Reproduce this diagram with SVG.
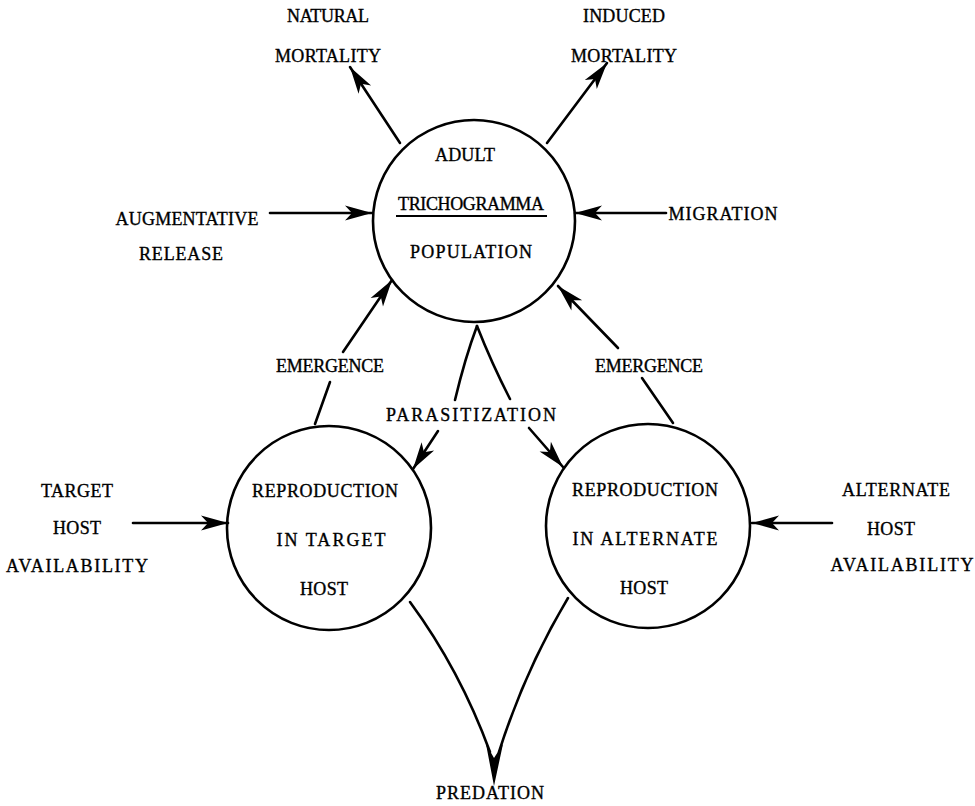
<svg xmlns="http://www.w3.org/2000/svg" width="975" height="806" viewBox="0 0 975 806">
<style>
text{font-family:"Liberation Serif","Times New Roman",serif;font-size:18px;fill:#000;stroke:#000;stroke-width:0.35;text-anchor:middle}
.node circle{fill:none;stroke:#000;stroke-width:2.6}
.c{fill:none;stroke:#000;stroke-width:2.6;stroke-linecap:round}
.a{marker-end:url(#ah)}
</style>
<defs>
<marker id="ah" viewBox="-30 -9 32 18" refX="0" refY="0" markerWidth="32" markerHeight="18" markerUnits="userSpaceOnUse" orient="auto">
<path d="M0,0 L-27,-7.5 L-20,0 L-27,7.5 Z" fill="#000"/>
</marker>
</defs>
<rect width="975" height="806" fill="#fff"/>
<g id="connectors">
<line class="c a" x1="400" y1="143" x2="350" y2="67"/>
<line class="c a" x1="547" y1="143" x2="607" y2="63"/>
<line class="c a" x1="270" y1="213" x2="372" y2="213"/>
<line class="c a" x1="666" y1="213" x2="575" y2="213"/>
<line class="c" x1="315" y1="424" x2="330" y2="382"/>
<line class="c a" x1="343" y1="352" x2="392" y2="280"/>
<line class="c" x1="673" y1="423" x2="642" y2="378"/>
<line class="c a" x1="618" y1="348" x2="558" y2="286"/>
<path class="c" d="M477,326 Q465,358 455,400"/>
<path class="c" d="M477,326 Q492,364 510,399"/>
<line class="c a" x1="438" y1="431" x2="413" y2="469"/>
<line class="c a" x1="529" y1="428" x2="563" y2="467"/>
<line class="c a" x1="133" y1="523" x2="228" y2="523"/>
<line class="c a" x1="832" y1="523" x2="752" y2="523"/>
<path class="c" d="M410,602 Q460,670 490,752"/>
<path class="c" d="M568,598 Q525,670 499,752"/>
<path d="M486,744 L494,758 L503,744 L494,786 Z" fill="#000"/>
<text x="328" y="22" textLength="82" lengthAdjust="spacing">NATURAL</text>
<text x="328" y="62" textLength="106" lengthAdjust="spacing">MORTALITY</text>
<text x="624" y="22" textLength="82" lengthAdjust="spacing">INDUCED</text>
<text x="624" y="62" textLength="106" lengthAdjust="spacing">MORTALITY</text>
<text x="187" y="225" textLength="143" lengthAdjust="spacing">AUGMENTATIVE</text>
<text x="181" y="260" textLength="84" lengthAdjust="spacing">RELEASE</text>
<text x="723" y="220" textLength="109" lengthAdjust="spacing">MIGRATION</text>
<text x="330" y="372" textLength="108" lengthAdjust="spacing">EMERGENCE</text>
<text x="649" y="372" textLength="108" lengthAdjust="spacing">EMERGENCE</text>
<text x="471" y="421" textLength="170" lengthAdjust="spacing">PARASITIZATION</text>
<text x="77" y="497" textLength="72" lengthAdjust="spacing">TARGET</text>
<text x="77" y="534" textLength="48" lengthAdjust="spacing">HOST</text>
<text x="77" y="572" textLength="142" lengthAdjust="spacing">AVAILABILITY</text>
<text x="896" y="496" textLength="108" lengthAdjust="spacing">ALTERNATE</text>
<text x="891" y="535" textLength="48" lengthAdjust="spacing">HOST</text>
<text x="902" y="571" textLength="143" lengthAdjust="spacing">AVAILABILITY</text>
<text x="490" y="799" textLength="108" lengthAdjust="spacing">PREDATION</text>
</g>
<g id="adult" class="node">
<circle cx="474" cy="221" r="101"/>
<text x="465" y="161" textLength="60" lengthAdjust="spacing">ADULT</text>
<text x="471" y="210" textLength="146" lengthAdjust="spacing">TRICHOGRAMMA</text>
<line x1="396" y1="216" x2="547" y2="216" stroke="#000" stroke-width="1.8"/>
<text x="471" y="258" textLength="122" lengthAdjust="spacing">POPULATION</text>
</g>
<g id="target" class="node">
<circle cx="329" cy="528" r="102"/>
<text x="325" y="497" textLength="146" lengthAdjust="spacing">REPRODUCTION</text>
<text x="331" y="546" textLength="109" lengthAdjust="spacing">IN TARGET</text>
<text x="324" y="595" textLength="48" lengthAdjust="spacing">HOST</text>
</g>
<g id="alternate" class="node">
<circle cx="648" cy="526" r="102"/>
<text x="645" y="496" textLength="146" lengthAdjust="spacing">REPRODUCTION</text>
<text x="645" y="545" textLength="145" lengthAdjust="spacing">IN ALTERNATE</text>
<text x="644" y="594" textLength="48" lengthAdjust="spacing">HOST</text>
</g>
</svg>
